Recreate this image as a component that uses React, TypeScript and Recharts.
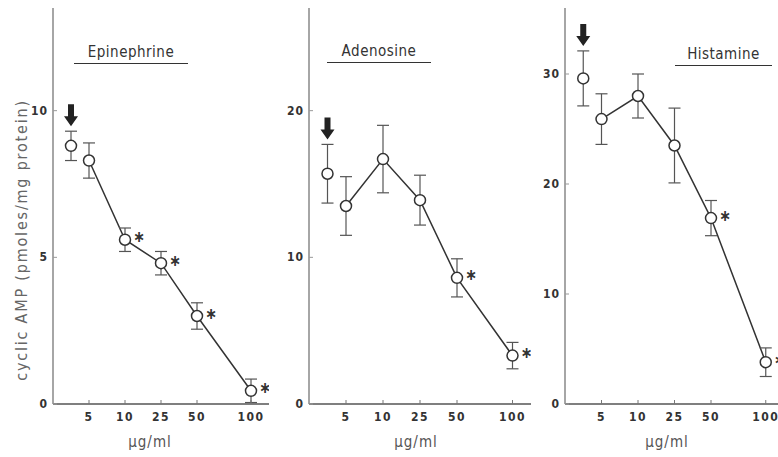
import { ComposedChart, Line, Scatter, XAxis, YAxis, ErrorBar, ReferenceDot } from 'recharts'

const doseLabels = ['C', '5', '10', '25', '50', '100']
// position of each dose along the (uneven) x axis of the original figure
const doseSlots = [0.5, 1, 2, 3, 4, 5.5]

const epinephrineMean = [8.8, 8.3, 5.6, 4.8, 3.0, 0.45]
const epinephrineErr = [0.5, 0.6, 0.4, 0.4, 0.45, 0.4]
const epinephrineSig = [false, false, true, true, true, true]

const adenosineMean = [15.7, 13.5, 16.7, 13.9, 8.6, 3.3]
const adenosineErr = [2.0, 2.0, 2.3, 1.7, 1.3, 0.9]
const adenosineSig = [false, false, false, false, true, true]

const histamineMean = [29.6, 25.9, 28.0, 23.5, 16.9, 3.8]
const histamineErr = [2.5, 2.3, 2.0, 3.4, 1.6, 1.3]
const histamineSig = [false, false, false, false, true, true]

const FONT = "'DejaVu Sans Condensed', 'Liberation Sans Narrow', 'DejaVu Sans', sans-serif"
const INK = '#333'

const YTick = (props: any) => {
  const { x, y, payload } = props
  return (
    <g>
      <line x1={x + 5} x2={x + 9} y1={y} y2={y} stroke="#999" strokeWidth={1} />
      <text x={x} y={y} textAnchor="end" dominantBaseline="central" fontFamily={FONT} fontWeight="bold" fontSize={12} letterSpacing={1} fill={INK}>
        {payload.value}
      </text>
    </g>
  )
}

const XTick = (props: any) => {
  const { x, y, payload } = props
  const label = doseLabels[doseSlots.indexOf(payload.value)]
  return (
    <g>
      <line x1={x} x2={x} y1={y - 6} y2={y - 10} stroke="#777" strokeWidth={1} />
      <text x={x} y={y + 7} textAnchor="middle" dominantBaseline="central" fontFamily={FONT} fontWeight="bold" fontSize={12} letterSpacing={1.5} fill={INK}>
        {label}
      </text>
    </g>
  )
}

const Dot = (props: any) => {
  const { cx, cy, payload } = props
  return (
    <g>
      <circle cx={cx} cy={cy} r={5.5} fill="#fff" stroke={INK} strokeWidth={1.5} />
      {payload.sig && (
        <text x={cx + 14} y={cy - 3} textAnchor="middle" dominantBaseline="central" fontFamily={FONT} fontWeight="bold" fontSize={16} fill={INK}>
          ∗
        </text>
      )}
    </g>
  )
}

const Arrow = (props: any) => {
  const { cx, cy } = props
  const tip = cy - 5
  return (
    <path
      d={`M${cx - 3},${tip - 22} L${cx + 3},${tip - 22} L${cx + 3},${tip - 10} L${cx + 7},${tip - 10} L${cx},${tip} L${cx - 7},${tip - 10} L${cx - 3},${tip - 10} Z`}
      fill="#222"
    />
  )
}

interface PanelProps {
  left: number
  axisWidth: number
  plotWidth: number
  yMax: number
  yTicks: number[]
  mean: number[]
  err: number[]
  sig: boolean[]
}

function Panel({ left, axisWidth, plotWidth, yMax, yTicks, mean, err, sig }: PanelProps) {
  const rows = doseSlots.map((x, i) => ({
    x,
    y: mean[i],
    err: err[i],
    sig: sig[i],
    line: i === 0 ? null : mean[i],
  }))
  return (
    <div style={{ position: 'absolute', left, top: 0 }}>
      <ComposedChart
        width={axisWidth + plotWidth + 14}
        height={457}
        data={rows}
        margin={{ top: 8, right: 14, bottom: 23, left: 0 }}
      >
        <XAxis
          type="number"
          dataKey="x"
          domain={[0, 6]}
          ticks={doseSlots.slice(1)}
          tick={<XTick />}
          tickLine={false}
          tickSize={0}
          tickMargin={6}
          height={30}
          stroke="#555"
          strokeWidth={1.5}
          allowDataOverflow
        />
        <YAxis
          type="number"
          domain={[0, yMax]}
          ticks={yTicks}
          tick={<YTick />}
          tickLine={false}
          tickSize={0}
          tickMargin={5}
          width={axisWidth}
          stroke="#888"
          strokeWidth={1.5}
          allowDataOverflow
        />
        <Line dataKey="line" stroke={INK} strokeWidth={1.5} dot={false} isAnimationActive={false} connectNulls={false} />
        <Scatter dataKey="y" shape={<Dot />} isAnimationActive={false}>
          <ErrorBar dataKey="err" direction="y" width={6} stroke="#555" strokeWidth={1.2} />
        </Scatter>
        <ReferenceDot x={doseSlots[0]} y={mean[0] + err[0]} shape={<Arrow />} ifOverflow="visible" />
      </ComposedChart>
    </div>
  )
}

const titleStyle = (left: number, top: number, width: number): React.CSSProperties => ({
  position: 'absolute',
  left,
  top,
  width,
  textAlign: 'center',
  fontFamily: FONT,
  fontSize: 15,
  lineHeight: '16px',
  letterSpacing: 0.5,
  color: INK,
  paddingBottom: 3,
  borderBottom: `1.5px solid ${INK}`,
})

const unitStyle = (center: number): React.CSSProperties => ({
  position: 'absolute',
  left: center - 40,
  top: 433,
  width: 80,
  textAlign: 'center',
  fontFamily: FONT,
  fontSize: 15,
  letterSpacing: 1,
  color: '#555',
})

export default function App() {
  return (
    <div style={{ position: 'absolute', left: 0, top: 0, width: 778, height: 457, overflow: 'hidden', background: '#fff' }}>
      <Panel left={0} axisWidth={53} plotWidth={216} yMax={13.5} yTicks={[0, 5, 10]} mean={epinephrineMean} err={epinephrineErr} sig={epinephrineSig} />
      <Panel left={272} axisWidth={37} plotWidth={222} yMax={27} yTicks={[0, 10, 20]} mean={adenosineMean} err={adenosineErr} sig={adenosineSig} />
      <Panel left={535} axisWidth={30} plotWidth={219} yMax={36} yTicks={[0, 10, 20, 30]} mean={histamineMean} err={histamineErr} sig={histamineSig} />

      <div style={titleStyle(74, 44, 114)}>Epinephrine</div>
      <div style={titleStyle(327, 43, 104)}>Adenosine</div>
      <div style={titleStyle(675, 46, 97)}>Histamine</div>

      <div style={unitStyle(150)}>µg/ml</div>
      <div style={unitStyle(416)}>µg/ml</div>
      <div style={unitStyle(667)}>µg/ml</div>

      <div
        style={{
          position: 'absolute',
          left: 22 - 160,
          top: 240 - 10,
          width: 320,
          height: 20,
          lineHeight: '20px',
          textAlign: 'center',
          transform: 'rotate(-90deg)',
          fontFamily: FONT,
          fontSize: 16,
          letterSpacing: 1.8,
          color: '#666',
        }}
      >
        cyclic AMP (pmoles/mg protein)
      </div>
    </div>
  )
}
